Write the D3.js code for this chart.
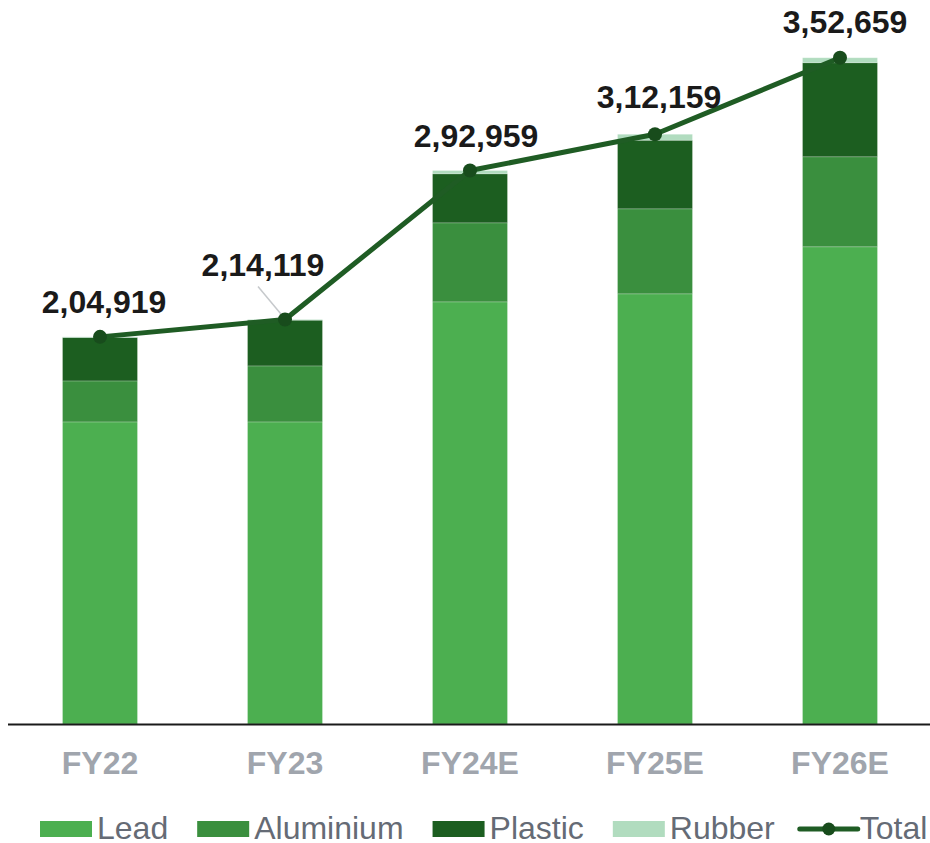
<!DOCTYPE html>
<html>
<head>
<meta charset="utf-8">
<script src="https://cdn.jsdelivr.net/npm/d3@7"></script>
<style>
  body { margin: 0; background: #fff; }
  svg { display: block; font-family: "Liberation Sans", Arial, sans-serif; }
</style>
</head>
<body>
<div class="container"></div>
<script>
// data (units, Indian grouping on labels)
const years = ["FY22", "FY23", "FY24E", "FY25E", "FY26E"];
const lead = [159900, 159900, 223450, 227700, 252600];
const aluminium = [21700, 29650, 41830, 45000, 47650];
const plastic = [23000, 24200, 25950, 36300, 49770];
const rubber = [319, 369, 1729, 3159, 2639];
const totals = [204919, 214119, 292959, 312159, 352659];
const totalLabels = ["2,04,919", "2,14,119", "2,92,959", "3,12,159", "3,52,659"];

const seriesNames = ["Lead", "Aluminium", "Plastic", "Rubber"];
const colors = ["#4caf50", "#3a8f3e", "#1c5e20", "#b1dcbf"];

const w = 930;
const h = 843;
const base = 724;

const svg = d3.select(".container")
              .append("svg")
              .attr("width", w)
              .attr("height", h);

const rows = years.map((yr, i) => ({
  year: yr,
  Lead: lead[i],
  Aluminium: aluminium[i],
  Plastic: plastic[i],
  Rubber: rubber[i]
}));

const xScale = d3.scaleBand()
                 .domain(years)
                 .range([7.5, 932.5])
                 .paddingInner(0.595)
                 .paddingOuter(0.2975);

const yScale = d3.scaleLinear()
                 .domain([0, 370000])
                 .range([base, 25]);

const stack = d3.stack().keys(seriesNames)(rows);

svg.selectAll("g.series")
   .data(stack).enter()
   .append("g")
   .attr("class", "series")
   .attr("fill", (d, i) => colors[i])
   .selectAll("rect")
   .data((d) => d).enter()
   .append("rect")
   .attr("x", (d) => xScale(d.data.year))
   .attr("y", (d) => yScale(d[1]))
   .attr("height", (d) => yScale(d[0]) - yScale(d[1]))
   .attr("width", xScale.bandwidth())
   .attr("stroke", "rgba(255,255,255,0.25)")
   .attr("stroke-width", 0.8);

// x axis, no ticks
const xAxis = d3.axisBottom(xScale).tickSize(0).tickPadding(27);
const gx = svg.append("g")
              .attr("id", "x-axis")
              .attr("transform", `translate(0, ${base})`)
              .call(xAxis);
gx.select(".domain").attr("stroke", "#1a1a1a").attr("stroke-width", 2);
gx.selectAll("text")
  .attr("fill", "#a0a5ad")
  .style("font-size", "32px")
  .style("font-weight", "bold")
  .style("font-family", "'Liberation Sans', Arial, sans-serif");

// total line
const cx = (i) => xScale(years[i]) + xScale.bandwidth() / 2;
const line = d3.line()
               .x((d, i) => cx(i))
               .y((d) => yScale(d));

svg.append("path")
   .datum(totals)
   .attr("d", line)
   .attr("fill", "none")
   .attr("stroke", "#1f5c24")
   .attr("stroke-width", 5)
   .attr("stroke-linejoin", "round");

// leader line for FY23 label
const i23 = 1;
svg.append("line")
   .attr("x1", cx(i23) - 27)
   .attr("y1", yScale(totals[i23]) - 33)
   .attr("x2", cx(i23) - 2)
   .attr("y2", yScale(totals[i23]) - 3)
   .attr("stroke", "#c6c9cc")
   .attr("stroke-width", 1.5);

svg.selectAll("circle.dot")
   .data(totals).enter()
   .append("circle")
   .attr("class", "dot")
   .attr("cx", (d, i) => cx(i))
   .attr("cy", (d) => yScale(d))
   .attr("r", 7)
   .attr("fill", "#184c1c");

// label nudges (dx, height above point)
const labelNudge = [[4, 24], [-22, 43], [6, 24], [4, 26], [5, 25]];
svg.selectAll("text.total")
   .data(totals).enter()
   .append("text")
   .attr("class", "total")
   .attr("x", (d, i) => cx(i) + labelNudge[i][0])
   .attr("y", (d, i) => yScale(d) - labelNudge[i][1])
   .attr("text-anchor", "middle")
   .attr("fill", "#1a1a1a")
   .style("font-size", "32px")
   .style("font-weight", "bold")
   .text((d, i) => totalLabels[i]);

// legend
const legend = svg.append("g").attr("class", "legend");
let lx = 40;
const ly = 829;
seriesNames.forEach((name, i) => {
  legend.append("rect")
        .attr("x", lx)
        .attr("y", ly - 8)
        .attr("width", 52)
        .attr("height", 16)
        .attr("fill", colors[i]);
  const t = legend.append("text")
                  .attr("x", lx + 57)
                  .attr("y", ly + 10)
                  .attr("fill", "#656b75")
                  .style("font-size", "32px")
                  .text(name);
  lx = lx + 57 + t.node().getComputedTextLength() + 29;
});
lx -= 4;
legend.append("line")
      .attr("x1", lx).attr("x2", lx + 58)
      .attr("y1", ly).attr("y2", ly)
      .attr("stroke", "#1f5c24")
      .attr("stroke-width", 5)
      .attr("stroke-linecap", "round");
legend.append("circle")
      .attr("cx", lx + 29)
      .attr("cy", ly)
      .attr("r", 6.5)
      .attr("fill", "#184c1c");
legend.append("text")
      .attr("x", lx + 60)
      .attr("y", ly + 10)
      .attr("fill", "#656b75")
      .style("font-size", "32px")
      .text("Total");
</script>
</body>
</html>
